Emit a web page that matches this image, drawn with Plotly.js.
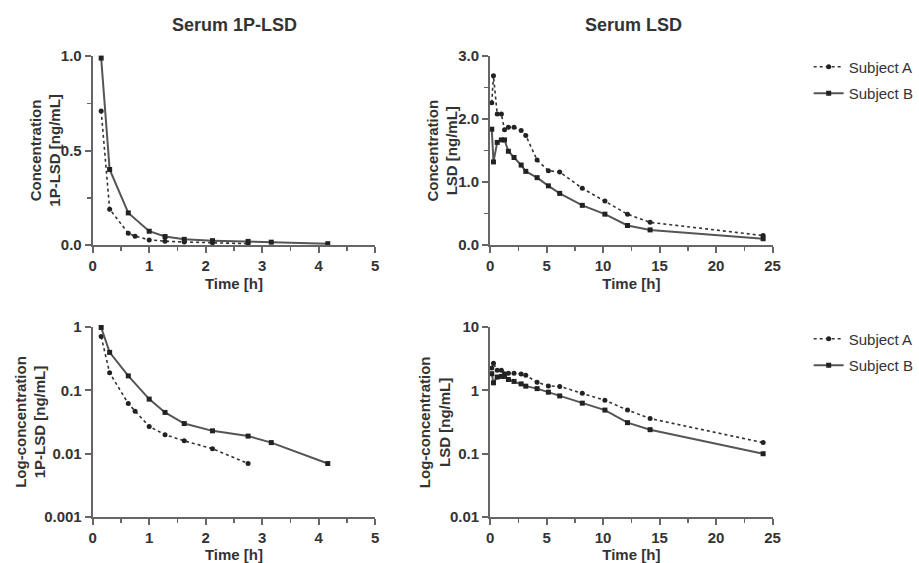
<!DOCTYPE html>
<html><head><meta charset="utf-8">
<script src="https://cdn.plot.ly/plotly-3.0.1.min.js"></script>
<style>html,body{margin:0;padding:0;background:#fff}</style>
</head><body><div id="chart" style="width:919px;height:563px"></div>
<script>
// ---- data ----
const seriesNames = ["Subject A", "Subject B"];
const panelTitles = ["Serum 1P-LSD", "Serum LSD"];
const xTitle = "Time [h]";
const yTitles = ["Concentration<br>1P-LSD [ng/mL]", "Concentration<br>LSD [ng/mL]",
                 "Log-concentration<br>1P-LSD [ng/mL]", "Log-concentration<br>LSD [ng/mL]"];

const time1P_A = [0.15, 0.3, 0.63, 0.75, 1.0, 1.28, 1.62, 2.12, 2.75];
const conc1P_A = [0.71, 0.19, 0.062, 0.047, 0.027, 0.020, 0.016, 0.012, 0.007];
const time1P_B = [0.15, 0.3, 0.63, 1.0, 1.28, 1.62, 2.12, 2.75, 3.16, 4.16];
const conc1P_B = [0.99, 0.40, 0.17, 0.073, 0.045, 0.030, 0.023, 0.019, 0.015, 0.007];

const timeLSD = [0.15, 0.3, 0.63, 1.0, 1.28, 1.62, 2.12, 2.75, 3.16, 4.16, 5.16, 6.16, 8.16, 10.16, 12.16, 14.16, 24.16];
const concLSD_A = [2.26, 2.69, 2.08, 2.08, 1.83, 1.87, 1.87, 1.82, 1.74, 1.35, 1.18, 1.16, 0.90, 0.70, 0.49, 0.36, 0.15];
const concLSD_B = [1.84, 1.32, 1.63, 1.67, 1.67, 1.49, 1.39, 1.27, 1.17, 1.07, 0.94, 0.82, 0.63, 0.49, 0.31, 0.24, 0.10];

const logTicks1P = [0.001, 0.01, 0.1, 1];
const logTickText1P = ["0.001", "0.01", "0.1", "1"];
const logTicksLSD = [0.01, 0.1, 1, 10];
const logTickTextLSD = ["0.01", "0.1", "1", "10"];

// ---- styles ----
const FONT = "Liberation Sans, Arial, Helvetica, sans-serif";
const TXT = "#333";
const AX = "#666";
const styleA = {mode: "lines+markers", line: {dash: "dot", width: 1.6, color: "#333"},
                marker: {symbol: "circle", size: 5, color: "#222"}, cliponaxis: false};
const styleB = {mode: "lines+markers", line: {dash: "solid", width: 2, color: "#555"},
                marker: {symbol: "square", size: 5, color: "#222"}, cliponaxis: false};

function tr(x, y, style, name, xa, ya, legend, show) {
  return Object.assign({}, style, {x: x, y: y, name: name, xaxis: xa, yaxis: ya,
    legend: legend, showlegend: show, legendgroup: name + legend});
}

const data = [
  tr(time1P_A, conc1P_A, styleA, seriesNames[0], "x", "y", "legend", false),
  tr(time1P_B, conc1P_B, styleB, seriesNames[1], "x", "y", "legend", false),
  tr(timeLSD, concLSD_A, styleA, seriesNames[0], "x2", "y2", "legend", true),
  tr(timeLSD, concLSD_B, styleB, seriesNames[1], "x2", "y2", "legend", true),
  tr(time1P_A, conc1P_A, styleA, seriesNames[0], "x3", "y3", "legend2", false),
  tr(time1P_B, conc1P_B, styleB, seriesNames[1], "x3", "y3", "legend2", false),
  tr(timeLSD, concLSD_A, styleA, seriesNames[0], "x4", "y4", "legend2", true),
  tr(timeLSD, concLSD_B, styleB, seriesNames[1], "x4", "y4", "legend2", true)
];

const W = 919, H = 563;
const px = v => v / W;
const py = v => (H - v) / H;

const tickFont = {family: FONT, size: 15, color: TXT, weight: "bold"};
const titleFont = {family: FONT, size: 15, color: TXT, weight: "bold"};

function xax(domain, range, dtick, minor, anchor) {
  return {domain: domain, range: range, dtick: dtick, tick0: 0, anchor: anchor,
    showline: true, linecolor: AX, linewidth: 2, ticks: "outside", ticklen: 6, tickwidth: 2,
    tickcolor: AX, showgrid: false, zeroline: false, tickfont: tickFont, fixedrange: true,
    minor: {dtick: minor, tick0: 0, ticks: "outside", ticklen: 4, tickwidth: 1.5, tickcolor: AX, showgrid: false},
    title: {text: xTitle, font: titleFont, standoff: 5}, automargin: false};
}
function yax(domain, range, dtick, minor, anchor) {
  return {domain: domain, range: range, dtick: dtick, tick0: 0, anchor: anchor, tickformat: ".1f",
    showline: true, linecolor: AX, linewidth: 2, ticks: "outside", ticklen: 6, tickwidth: 2,
    tickcolor: AX, showgrid: false, zeroline: false, tickfont: tickFont, fixedrange: true,
    minor: {dtick: minor, tick0: 0, ticks: "outside", ticklen: 4, tickwidth: 1.5, tickcolor: AX, showgrid: false},
    automargin: false};
}
function ylog(domain, range, vals, text, anchor) {
  return {domain: domain, type: "log", range: range, tickmode: "array", tickvals: vals, ticktext: text,
    anchor: anchor, showline: true, linecolor: AX, linewidth: 2, ticks: "outside", ticklen: 6, tickwidth: 2,
    tickcolor: AX, showgrid: false, zeroline: false, tickfont: tickFont, fixedrange: true, automargin: false};
}

const dxL = [px(93.3), px(377.7)], dxR = [px(493.3), px(777.7)];
const dyT = [py(245), py(56.2)], dyB = [py(517), py(327.2)];

const annFont = {family: FONT, size: 15, color: TXT, weight: "bold"};
function ann(text, x, y, angle, font) {
  return {text: text, x: px(x), y: py(y), xref: "paper", yref: "paper", showarrow: false,
          xanchor: "center", yanchor: "middle", textangle: angle, font: font};
}
const titleFontBig = {family: FONT, size: 18, color: TXT, weight: "bold"};
const annotations = [
  ann(panelTitles[0], 236, 25, 0, titleFontBig),
  ann(panelTitles[1], 638, 25, 0, titleFontBig),
  ann(yTitles[0], 45.5, 150.5, -90, annFont),
  ann(yTitles[1], 445, 150.5, -90, annFont),
  ann(yTitles[2], 30, 422, -90, annFont),
  ann(yTitles[3], 437, 422, -90, annFont)
];

const legFont = {family: FONT, size: 15, color: TXT};
const layout = {
  width: W, height: H, margin: {l: 0, r: 0, t: 0, b: 0},
  paper_bgcolor: "#fff", plot_bgcolor: "#fff",
  font: {family: FONT, color: TXT},
  xaxis: xax(dxL, [0, 5], 1, 0.5, "y"),
  yaxis: yax(dyT, [0, 1], 0.5, 0.25, "x"),
  xaxis2: xax(dxR, [0, 25], 5, 2.5, "y2"),
  yaxis2: yax(dyT, [0, 3], 1, 0.5, "x2"),
  xaxis3: xax(dxL, [0, 5], 1, 0.5, "y3"),
  yaxis3: ylog(dyB, [-3, 0], logTicks1P, logTickText1P, "x3"),
  xaxis4: xax(dxR, [0, 25], 5, 2.5, "y4"),
  yaxis4: ylog(dyB, [-2, 1], logTicksLSD, logTickTextLSD, "x4"),
  legend: {x: px(814), y: py(80), xanchor: "left", yanchor: "middle", font: legFont,
           bgcolor: "rgba(0,0,0,0)", tracegroupgap: 4},
  legend2: {x: px(814), y: py(352), xanchor: "left", yanchor: "middle", font: legFont,
            bgcolor: "rgba(0,0,0,0)", tracegroupgap: 4},
  annotations: annotations,
  showlegend: true
};

Plotly.newPlot("chart", data, layout, {displayModeBar: false, staticPlot: true});
</script></body></html>
